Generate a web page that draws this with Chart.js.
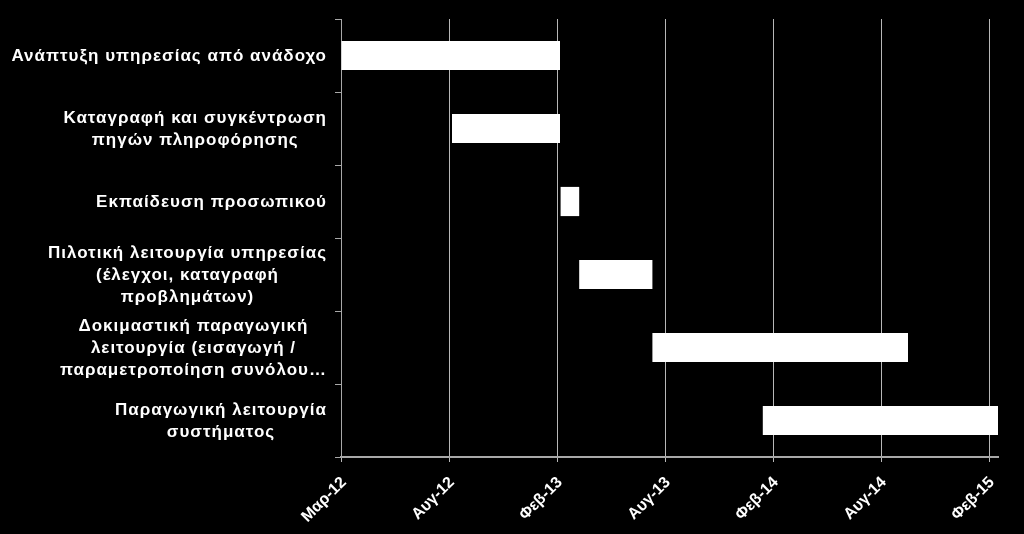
<!DOCTYPE html>
<html>
<head>
<meta charset="utf-8">
<script src="https://cdn.jsdelivr.net/npm/chart.js@4"></script>
<style>
  html, body { margin: 0; padding: 0; background: #000; }
  #wrap { width: 1024px; height: 534px; position: relative; background: #000; }
</style>
</head>
<body>
<div id="wrap"><canvas id="c"></canvas></div>
<script>
// Task names (multi-line as in the reference)
const taskLabels = [
  ['Ανάπτυξη υπηρεσίας από ανάδοχο'],
  ['Καταγραφή και συγκέντρωση', 'πηγών πληροφόρησης'],
  ['Εκπαίδευση προσωπικού'],
  ['Πιλοτική λειτουργία υπηρεσίας', '(έλεγχοι, καταγραφή', 'προβλημάτων)'],
  ['Δοκιμαστική παραγωγική', 'λειτουργία (εισαγωγή /', 'παραμετροποίηση συνόλου…'],
  ['Παραγωγική λειτουργία', 'συστήματος']
];
// Start / end of each task, in days counted from 1 Mar 2012
const startDay = [0, 185, 366, 397, 519, 703];
const endDay   = [365, 365, 397, 519, 945, 1095];
// Axis ticks (days from 1 Mar 2012) and their labels
const tickDays   = [0, 180, 360, 540, 720, 900, 1080];
const tickLabels = ['Μαρ-12', 'Αυγ-12', 'Φεβ-13', 'Αυγ-13', 'Φεβ-14', 'Αυγ-14', 'Φεβ-15'];
const axisMin = 0, axisMax = 1095;

const labelFont = 'bold 17px "Liberation Sans", Arial, sans-serif';

const taskLabelPlugin = {
  id: 'taskLabels',
  afterDraw(chart) {
    const ctx = chart.ctx;
    const ys = chart.scales.y;
    const rightEdge = 327;
    const lineH = 22;
    ctx.save();
    ctx.font = labelFont;
    if ('letterSpacing' in ctx) ctx.letterSpacing = '1px';
    ctx.fillStyle = '#ffffff';
    ctx.textAlign = 'center';
    ctx.textBaseline = 'middle';
    taskLabels.forEach((lines, i) => {
      const yc = ys.getPixelForValue(i) + 1;
      let maxW = 0;
      lines.forEach(l => { maxW = Math.max(maxW, ctx.measureText(l).width); });
      const cx = rightEdge - maxW / 2;
      const y0 = yc - (lines.length - 1) * lineH / 2;
      lines.forEach((l, k) => ctx.fillText(l, cx, y0 + k * lineH));
    });
    ctx.restore();
  }
};

new Chart(document.getElementById('c'), {
  type: 'bar',
  data: {
    labels: taskLabels.map(l => l.join(' ')),
    datasets: [{
      data: startDay.map((s, i) => [s, endDay[i]]),
      backgroundColor: '#ffffff',
      borderWidth: 0,
      borderSkipped: false,
      barPercentage: 0.4,
      categoryPercentage: 1.0
    }]
  },
  options: {
    indexAxis: 'y',
    responsive: true,
    maintainAspectRatio: false,
    animation: false,
    layout: { padding: { top: 19, right: 26, left: 0, bottom: 0 } },
    plugins: { legend: { display: false }, tooltip: { enabled: false } },
    scales: {
      x: {
        type: 'linear',
        min: axisMin,
        max: axisMax,
        afterBuildTicks: s => { s.ticks = tickDays.map(v => ({ value: v })); },
        afterFit: s => { s.height = 77; },
        grid: { color: '#b8b8b8', lineWidth: 1, tickLength: 5, drawTicks: true },
        border: { display: true, color: '#a8a8a8', width: 2 },
        ticks: {
          color: '#ffffff',
          font: { family: '"Liberation Sans", Arial, sans-serif', size: 16, weight: 'bold' },
          minRotation: 45,
          maxRotation: 45,
          autoSkip: false,
          padding: 11,
          labelOffset: 3,
          callback: (v, i) => tickLabels[i]
        }
      },
      y: {
        type: 'category',
        afterFit: s => { s.width = 341; },
        grid: { display: true, drawOnChartArea: false, offset: true, color: '#a8a8a8', tickLength: 6 },
        border: { display: true, color: '#a8a8a8', width: 1 },
        ticks: { display: false }
      }
    }
  },
  plugins: [taskLabelPlugin]
});
</script>
</body>
</html>
